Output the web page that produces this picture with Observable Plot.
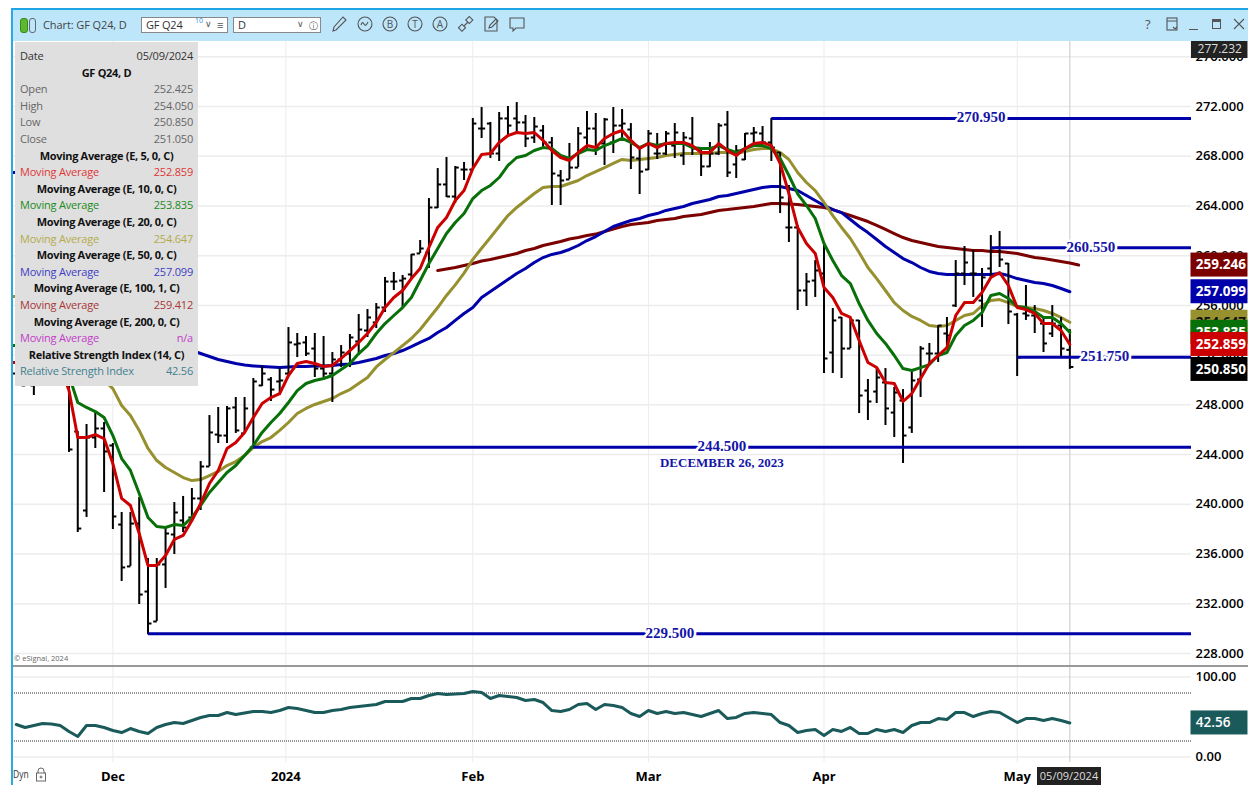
<!DOCTYPE html>
<html><head><meta charset="utf-8">
<script src="https://cdn.jsdelivr.net/npm/d3@7"></script>
<script src="https://cdn.jsdelivr.net/npm/@observablehq/plot@0.6"></script>
<style>
html,body{margin:0;padding:0;background:#fff}
#wrap{position:relative;width:1248px;height:785px;overflow:hidden;font-family:"Open Sans",sans-serif;color:#333}
#wrap>svg,#price,#rsi{position:absolute;left:0}
.abs{position:absolute;white-space:nowrap}
#legend{position:absolute;left:15px;top:42px;width:183px;height:344px;background:#dfdfdf;font-size:11px;letter-spacing:-.2px}
#legend div{position:absolute;left:5px;right:5px;height:16px;line-height:16px;display:flex;justify-content:space-between;white-space:nowrap}
#legend div.h{justify-content:center;font-weight:700;color:#111;letter-spacing:-.3px}
.box{position:absolute;background:#fff;border:1px solid #888;height:14px;top:17px;font-size:12px;line-height:14px;box-sizing:content-box}
</style></head>
<body><div id="wrap"></div>
<script>
const high=[253.18,252.37,252.37,253.98,254.38,253.18,251.17,245.86,246.42,247.38,246.58,244.89,239.34,239.34,240.55,235.64,235.64,238.13,240.14,240.63,241.27,243.44,247.14,247.79,247.87,248.59,248.59,250.12,251.09,250.20,250.92,254.22,253.74,253.50,253.74,253.50,252.21,252.77,253.66,255.27,255.67,256.15,258.25,258.65,258.41,260.10,261.22,264.60,267.01,267.90,267.18,267.50,271.04,271.92,270.72,271.52,272.00,272.32,271.28,271.12,270.47,269.51,266.85,269.03,270.31,271.60,271.44,271.04,271.92,271.76,270.63,268.62,270.07,269.83,269.99,270.63,269.91,271.12,268.62,269.11,270.63,271.60,268.86,269.83,270.31,270.39,271.04,268.30,265.65,262.43,258.57,259.61,260.98,255.75,255.03,254.95,254.79,250.04,250.92,250.92,249.40,249.23,250.76,252.69,252.94,254.38,255.03,259.61,260.74,260.42,258.97,261.62,261.95,259.37,255.35,257.60,255.99,254.95,255.99,255.03,254.05];
const low=[249.96,249.48,248.75,249.96,250.36,249.80,244.17,237.73,238.94,244.49,240.95,237.97,233.79,235.00,231.94,229.50,230.57,233.23,235.96,237.73,238.70,239.50,243.04,244.89,244.89,245.70,245.70,244.50,249.48,248.27,248.75,250.36,251.81,251.89,250.20,250.20,248.19,251.00,251.00,251.97,253.42,254.14,255.43,257.20,255.83,258.16,260.18,258.97,263.80,264.68,264.20,266.05,266.93,269.43,267.82,267.58,269.67,269.91,268.70,269.03,268.70,264.04,264.04,266.13,267.09,268.54,268.06,267.26,268.22,269.43,266.93,264.92,266.85,267.74,268.06,267.82,267.26,268.06,266.37,267.09,268.06,266.29,266.21,267.66,268.70,268.86,267.58,263.39,261.06,255.59,255.91,256.64,250.52,250.52,250.12,252.53,247.30,246.74,248.11,246.34,245.37,243.28,245.70,248.59,251.17,251.41,252.53,255.83,257.60,256.64,254.22,258.16,259.05,254.46,250.28,254.79,253.74,252.21,253.42,251.81,250.85];
const open=[250.52,249.56,249.56,250.76,252.77,251.57,250.76,245.86,239.50,245.37,246.10,244.73,238.37,235.00,238.45,232.98,230.57,235.16,237.57,238.70,238.94,240.47,243.04,245.61,245.53,247.79,245.70,244.57,249.56,250.04,249.88,250.52,252.86,253.02,252.53,250.92,250.52,251.65,252.13,253.10,253.98,254.63,255.83,257.92,258.00,258.49,260.18,260.26,263.88,265.73,264.76,266.93,266.93,270.23,270.63,268.22,271.04,271.04,270.72,269.51,270.07,269.11,266.45,266.13,267.09,269.51,270.23,269.03,269.11,270.47,270.15,267.82,266.93,268.22,268.22,268.86,268.06,269.43,268.46,267.18,268.22,270.55,267.34,267.74,269.83,269.83,269.11,268.30,262.27,262.27,257.20,258.00,258.57,252.21,255.03,252.53,254.79,249.15,249.07,249.80,247.38,248.35,246.18,250.04,252.13,252.13,253.74,255.99,258.57,258.57,256.39,258.97,260.66,259.37,255.27,255.35,255.19,254.54,253.74,254.38,252.425];
const close=[251.57,250.60,250.76,252.77,251.57,250.76,244.41,238.05,245.37,246.10,244.25,239.02,234.92,238.45,232.74,230.41,235.16,237.65,239.34,238.13,240.47,243.04,245.78,245.53,247.71,245.94,247.71,249.88,250.52,249.23,249.96,253.02,252.94,252.13,250.92,250.52,251.65,252.21,253.42,254.06,255.03,255.83,257.92,257.92,258.16,260.10,260.58,263.88,265.73,264.76,267.09,266.93,270.63,270.23,268.22,271.04,270.47,270.72,269.43,270.39,269.11,266.61,266.05,267.09,269.83,270.23,268.70,270.96,270.47,270.63,267.90,266.77,269.83,268.22,269.83,269.91,269.51,268.62,267.18,268.22,270.47,266.69,268.46,269.83,269.91,269.11,268.70,264.68,262.27,257.20,257.92,258.81,251.73,254.79,252.53,254.79,248.75,248.27,250.20,247.71,248.99,245.53,249.96,252.53,252.13,254.38,253.58,258.57,259.45,258.57,258.25,260.58,259.69,255.51,251.81,255.19,255.27,252.94,254.54,252.53,251.05];
const ma5=[251.41,251.17,250.76,251.17,251.57,251.17,249.15,245.37,245.37,245.61,245.29,243.28,240.47,239.90,237.65,235.07,235.07,235.88,237.17,237.49,238.70,240.06,241.67,242.72,244.49,244.97,245.78,246.98,248.11,248.59,248.91,250.36,251.33,251.49,251.33,251.09,251.17,251.73,252.37,253.02,253.74,254.63,255.83,256.64,257.20,258.16,258.97,260.66,262.27,263.07,264.44,265.24,267.01,268.14,268.22,269.11,269.67,269.91,269.83,269.91,269.27,268.46,267.90,267.66,268.30,268.86,268.70,269.43,269.83,270.07,269.27,268.62,269.03,268.70,269.03,269.11,269.11,268.86,268.30,268.30,269.03,268.46,268.06,268.62,269.03,269.11,268.86,267.42,265.00,262.27,260.98,260.18,257.44,256.64,255.35,255.03,253.18,251.41,251.00,249.80,249.72,248.27,248.91,250.12,251.33,251.97,252.61,255.19,256.23,256.23,257.04,258.25,258.65,257.60,255.83,255.67,255.35,254.54,254.54,253.98,252.859];
const ma10=[252.77,252.37,252.21,252.13,251.97,251.41,250.36,248.19,247.79,247.46,246.98,245.53,243.68,242.72,240.87,238.94,238.21,238.13,238.37,238.29,238.94,239.90,240.95,241.75,242.56,243.12,243.92,244.73,245.78,246.58,247.30,248.19,249.15,249.72,249.96,250.12,250.36,250.84,251.33,252.13,252.77,253.74,254.54,255.19,255.83,256.64,258.00,259.37,260.58,261.79,262.67,263.39,264.60,265.24,265.65,266.29,267.26,267.90,268.06,268.46,268.70,268.62,268.06,267.82,268.22,268.54,268.46,268.86,269.11,269.43,269.11,268.70,269.03,268.86,269.03,269.03,269.03,268.70,268.62,268.62,268.86,268.54,268.30,268.62,268.86,268.86,268.62,267.82,266.45,264.97,264.04,262.99,260.98,259.61,258.40,257.76,256.15,254.79,253.74,252.94,251.97,250.92,250.76,251.00,251.24,251.97,252.21,253.58,254.38,254.79,255.43,256.80,256.96,256.55,255.91,255.83,255.51,255.03,255.03,254.54,253.835];
const ma20=[256.72,256.23,255.59,254.95,254.38,253.98,253.18,252.21,251.41,250.60,249.96,249.31,247.95,247.14,245.94,244.49,243.52,242.96,242.56,242.15,241.91,241.99,242.31,242.64,243.12,243.44,243.92,244.57,245.05,245.37,245.94,246.58,247.30,247.71,248.03,248.27,248.51,248.91,249.23,249.72,250.20,251.05,251.65,252.20,252.77,253.34,254.06,254.95,255.83,256.80,257.65,258.60,259.70,260.60,261.46,262.35,263.23,263.88,264.44,265.00,265.49,265.57,265.57,265.81,266.05,266.45,266.77,267.09,267.42,267.74,267.66,267.74,267.82,267.90,268.06,268.14,268.22,268.22,268.22,268.22,268.30,268.30,268.22,268.38,268.54,268.62,268.62,268.30,267.74,266.69,265.89,265.24,264.28,263.23,262.27,261.38,260.26,259.05,258.16,257.20,256.23,255.59,255.11,254.79,254.38,254.30,254.38,254.79,255.19,255.35,255.99,256.39,256.47,256.23,255.91,255.83,255.75,255.59,255.35,255.03,254.647];
const ma50=[266.69,265.65,264.60,263.64,262.67,261.62,260.66,259.77,258.97,258.16,257.44,256.80,256.15,255.51,254.95,254.38,253.90,253.42,253.02,252.69,252.37,252.13,251.89,251.65,251.49,251.33,251.21,251.13,251.09,251.05,251.00,251.05,251.09,251.09,251.13,251.13,251.17,251.25,251.29,251.41,251.57,251.73,251.97,252.13,252.37,252.69,253.02,253.34,253.82,254.22,254.79,255.35,255.83,256.64,257.12,257.60,258.08,258.57,258.97,259.45,259.85,260.10,260.26,260.50,260.82,261.22,261.54,261.95,262.35,262.59,262.83,262.99,263.23,263.39,263.64,263.80,263.96,264.20,264.36,264.52,264.76,264.84,265.00,265.16,265.32,265.49,265.57,265.57,265.40,265.24,264.84,264.44,264.04,263.71,263.47,262.91,262.35,261.86,261.30,260.74,260.26,259.77,259.45,259.05,258.73,258.57,258.49,258.49,258.49,258.49,258.49,258.49,258.57,258.40,258.16,258.00,257.84,257.76,257.60,257.36,257.099];
const ma100=[258.81,258.93,259.05,259.21,259.37,259.57,259.69,259.85,260.02,260.18,260.42,260.58,260.82,260.98,261.14,261.34,261.46,261.62,261.74,261.95,262.15,262.35,262.51,262.59,262.67,262.83,262.91,262.99,263.15,263.23,263.31,263.47,263.64,263.71,263.80,263.88,263.96,264.08,264.20,264.20,264.16,264.12,264.04,263.96,263.88,263.71,263.47,263.23,262.99,262.75,262.43,262.11,261.78,261.46,261.22,261.06,260.90,260.74,260.66,260.58,260.50,260.42,260.42,260.34,260.34,260.26,260.18,260.02,259.85,259.77,259.65,259.53,259.412,259.246];
const rsi=[40.6,36.9,39.4,41.9,41.3,39.4,31.9,25.6,39.4,39.4,36.9,33.1,30.6,35.6,31.9,29.4,36.9,40.6,43.1,41.9,45.6,49.4,51.9,51.9,55.6,53.1,55,56.9,56.9,55.6,58.1,61.9,60.6,58.1,55.6,55.6,58.1,59.4,61.9,63.1,64.4,65.6,69.4,69.4,69.4,73.1,73.1,76.9,79.4,78.1,78.8,79.4,81.9,80.6,73.1,76.9,75.6,74.4,70.6,71.9,68.1,58.1,56.9,59.4,65.6,66.9,59.4,65.6,64.4,61.9,54.4,50.6,58.1,54.4,56.9,54.4,55.6,53.1,50.6,54.4,58.1,48.1,49.4,54.4,55.6,54.4,53.1,43.1,39.4,30.6,33.1,34.4,26.9,34.4,31.9,36.9,29.4,29.4,34.4,31.9,34.4,30.6,39.4,43.1,43.1,48.1,46.9,55.6,55.6,50.6,54.4,56.9,55.6,49.4,43.1,48.1,48.1,45.6,48.1,45.6,42.56];

const yTicks=[228,232,236,240,244,248,252,256,260,264,268,272,276];
const xTickPos=[11,30.7,52,72,92,114];
const xTickText=["Dec","2024","Feb","Mar","Apr","May"];
const lastBar=120;

const levelValues=[229.5,244.5,270.95,260.55,251.75];
const levelStart=[15,27,86,111,114];
const levelText=["229.500","244.500","270.950","260.550","251.750"];
const levelTextAt=[74.45,80.37,109.9,122.4,124];

const tagValues=[259.246,257.099,254.647,253.835,252.859,250.85];
const tagText=["259.246","257.099","254.647","253.835","252.859","250.850"];
const tagFill=["#7b0000","#0000aa","#96902f","#087008","#cc0000","#000000"];
const tagInk=["#fff","#fff","#111","#fff","#fff","#fff"];

const legendRows=[
["Date","05/09/2024","#333"],["h","GF Q24, D"],["Open","252.425","#666"],["High","254.050","#666"],["Low","250.850","#666"],["Close","251.050","#666"],
["h","Moving Average (E, 5, 0, C)"],["Moving Average","252.859","#e03636"],
["h","Moving Average (E, 10, 0, C)"],["Moving Average","253.835","#1a8a1a"],
["h","Moving Average (E, 20, 0, C)"],["Moving Average","254.647","#b3ab4a"],
["h","Moving Average (E, 50, 0, C)"],["Moving Average","257.099","#3c3cc4"],
["h","Moving Average (E, 100, 1, C)"],["Moving Average","259.412","#a83636"],
["h","Moving Average (E, 200, 0, C)"],["Moving Average","n/a","#c23cc8"],
["h","Relative Strength Index (14, C)"],["Relative Strength Index","42.56","#3f7f8f"]];

const X0=-0.49,X1=133.8,XR=140.29;
const idx=high.map((_,i)=>i);
const bars=idx.map(i=>({i,o:open[i],h:high[i],l:low[i],c:close[i]}));
const series=(arr,start=0)=>arr.map((v,k)=>({i:start+k,v}));
const maLine=(arr,stroke,start=0)=>Plot.line(series(arr,start),{x:"i",y:"v",stroke,strokeWidth:3,strokeLinejoin:"round",clip:true});
const withLead=arr=>[arr[0],...arr];
const levels=levelValues.map((v,k)=>({v,x:levelStart[k],t:levelText[k],tx:levelTextAt[k]}));
const xOpts={domain:[X0,X1],range:[11.5,1190.5]};
const font={fontFamily:'"Open Sans",sans-serif',fontSize:"13px",fontWeight:600,color:"#000",background:"transparent",overflow:"visible"};

const tagMarks=tagValues.flatMap((v,k)=>[
  Plot.rect([v],{x1:()=>X1,x2:()=>XR,y1:d=>d-0.965,y2:d=>d+0.965,fill:tagFill[k]}),
  Plot.text([v],{x:()=>X1+0.55,y:d=>d,text:()=>tagText[k],fill:tagInk[k],textAnchor:"start",fontSize:13.5,fontWeight:700})
]);

const price=Plot.plot({
  width:1248,height:667,marginTop:41,marginBottom:1,marginLeft:12,marginRight:57,
  style:font,
  x:{...xOpts,axis:null},
  y:{domain:[226.95,277.232],range:[666,41],axis:null},
  marks:[
    Plot.ruleY(yTicks,{stroke:"#ececec",strokeWidth:1.5}),
    Plot.ruleX(xTickPos,{stroke:"#ececec",strokeWidth:1}),
    Plot.ruleX([lastBar],{stroke:"#c8c8c8",strokeWidth:1}),
    Plot.axisY({anchor:"right",ticks:yTicks,tickFormat:d=>d.toFixed(3),tickSize:0,tickPadding:4,label:null}),
    maLine(ma100,"#7b0000",lastBar+1-(ma100.length-1)),
    maLine(withLead(ma50),"#0000aa",-1),
    maLine(withLead(ma20),"#96902f",-1),
    Plot.ruleX(bars,{x:"i",y1:"l",y2:"h",stroke:"#000",strokeWidth:2}),
    Plot.link(bars,{x1:d=>d.i-0.4,x2:"i",y1:"o",y2:"o",stroke:"#000",strokeWidth:2}),
    Plot.link(bars,{x1:"i",x2:d=>d.i+0.4,y1:"c",y2:"c",stroke:"#000",strokeWidth:2}),
    maLine(withLead(ma10),"#087008",-1),
    maLine(withLead(ma5),"#cc0000",-1),
    Plot.link(levels,{x1:"x",x2:()=>X1,y1:"v",y2:"v",dy:-1,stroke:"#0000aa",strokeWidth:3}),
    Plot.text(levels,{x:"tx",y:"v",dy:-2,text:"t",fill:"#1414a8",stroke:"#fff",strokeWidth:5,fontFamily:'"Liberation Serif",serif',fontWeight:700,fontSize:15}),
    Plot.text(["DECEMBER 26, 2023"],{x:()=>80.37,y:()=>243.36,text:d=>d,fill:"#1414a8",fontFamily:'"Liberation Serif",serif',fontWeight:700,fontSize:13}),
    ...tagMarks,
    Plot.rect([277.232],{x1:()=>X1+0.05,x2:()=>XR,y1:d=>d,y2:d=>d-1.37,fill:"#222"}),
    Plot.text([277.232],{x:()=>X1+0.75,y:d=>d-0.62,text:d=>d.toFixed(3),fill:"#ddd",textAnchor:"start",fontSize:12,fontWeight:400})
  ]
});
price.id="price";price.style.position="absolute";price.style.left="0";price.style.top="0";

const rsiPlot=Plot.plot({
  width:1248,height:118,marginTop:9.5,marginBottom:28.5,marginLeft:12,marginRight:57,
  style:font,
  x:{...xOpts,axis:null},
  y:{domain:[0,100],range:[89.5,9.5],axis:null},
  marks:[
    Plot.ruleY([0,100],{stroke:"#ececec",strokeWidth:1.5}),
    Plot.ruleX(xTickPos,{y1:-7,y2:112,stroke:"#ececec"}),
    Plot.ruleX([lastBar],{y1:-7,y2:112,stroke:"#c8c8c8"}),
    Plot.ruleY([20,80],{stroke:"#333",strokeWidth:1,strokeDasharray:"1,1"}),
    Plot.axisY({anchor:"right",ticks:[0,100],tickFormat:d=>d.toFixed(2),tickSize:0,tickPadding:4,label:null}),
    Plot.axisX({anchor:"bottom",ticks:xTickPos,tickFormat:d=>xTickText[xTickPos.indexOf(d)],tickSize:0,tickPadding:15,label:null,fontWeight:700}),
    Plot.line(series(rsi),{x:"i",y:"v",stroke:"#1a5a5a",strokeWidth:3,strokeLinejoin:"round"}),
    Plot.rect([42.56],{x1:()=>X1,x2:()=>XR,y1:d=>d-15,y2:d=>d+15,fill:"#1a5a5a"}),
    Plot.text([42.56],{x:()=>X1+0.55,y:d=>d,text:d=>d.toFixed(2),fill:"#fff",textAnchor:"start",fontSize:13.5,fontWeight:600})
  ]
});
rsiPlot.id="rsi";rsiPlot.style.position="absolute";rsiPlot.style.left="0";rsiPlot.style.top="667px";

const ico=(x,inner,w=22)=>`<svg class="abs" style="left:${x-w/2}px;top:13px" width="${w}" height="22" viewBox="0 0 22 22" fill="none" stroke="#555" stroke-width="1.1">${inner}</svg>`;
const letter=(c)=>`<circle cx="11" cy="11" r="7"/><text x="11" y="14.5" text-anchor="middle" font-size="10" fill="#555" stroke="none" font-family="Open Sans">${c}</text>`;
const chrome=`
<div class="abs" style="left:11px;top:8px;width:2px;height:777px;background:#29abe2"></div>
<div class="abs" style="left:12px;top:8px;width:1236px;height:2px;background:#1ea5e6"></div>
<div class="abs" style="left:13px;top:10px;width:1235px;height:31px;background:#bde6fb"></div>
<div class="abs" style="left:20px;top:18px;width:6px;height:13px;border-radius:3px;background:#5cb82e;border:1px solid #3a8a1a"></div>
<div class="abs" style="left:29px;top:18px;width:5px;height:13px;border-radius:3px;border:1px solid #666"></div>
<div class="abs" style="left:43px;top:16px;font-size:11px;line-height:17px;color:#444;letter-spacing:-.1px">Chart: GF Q24, D</div>
<div class="box" style="left:141px;width:85px;"><span style="position:absolute;left:4px;top:0;font-size:11px;letter-spacing:-.2px">GF Q24</span><span style="position:absolute;left:53px;top:-4px;font-size:7px;color:#2a8fe0">10</span><span style="position:absolute;left:63px;top:-1px;font-size:9px;color:#555">&#8744;</span><span style="position:absolute;left:75px;top:0;font-size:11px;color:#555">&#8801;</span></div>
<div class="box" style="left:233px;width:86px;"><span style="position:absolute;left:4px;top:0;font-size:11px">D</span><span style="position:absolute;left:63px;top:-1px;font-size:9px;color:#555">&#8744;</span><span style="position:absolute;left:75px;top:1px;font-size:9px;color:#555">&#9432;</span></div>
${ico(339,'<path d="M5 18l1-4L15 4l3 3L8 17z"/>')}
${ico(365,'<circle cx="11" cy="11" r="7"/><path d="M7 12c1-3 2-3 3-1s2 2 4-2"/>')}
${ico(390,letter("B"))}${ico(415,letter("T"))}${ico(440,letter("A"))}
${ico(466,'<rect x="5" y="12" width="5" height="5" transform="rotate(45 7 14)"/><rect x="12" y="5" width="5" height="5" transform="rotate(45 15 7)"/><path d="M9 13l4-4"/>')}
${ico(491,'<path d="M6 4h8l3 3v11H5V4z"/><path d="M9 15l1-3 6-6 2 2-6 6z"/>')}
${ico(517,'<path d="M4 5h14v10h-8l-3 3v-3H4z"/>')}
<div class="abs" style="left:1145px;top:16px;font-size:13px;line-height:17px;color:#555">?</div>
${ico(1172,'<rect x="6" y="5" width="10" height="12"/><path d="M6 8h10M12 14l2 2 2-2"/>')}
<div class="abs" style="left:1189px;top:29px;width:9px;height:1px;background:#555"></div>
<div class="abs" style="left:1212px;top:19px;width:9px;height:10px;border:1px solid #555;border-top-width:3px;box-sizing:border-box"></div>
${ico(1239,'<path d="M6 6l10 10M16 6L6 16"/>')}
<div class="abs" style="left:14px;top:654px;font-size:7.5px;line-height:9px;color:#666">&copy; eSignal, 2024</div>
<div class="abs" style="left:13px;top:768px;font-size:10px;line-height:13px;color:#333;transform:scaleX(.85);transform-origin:left">Dyn</div>
<svg class="abs" style="left:34px;top:767px" width="14" height="15" fill="none" stroke="#666" stroke-width="1"><path d="M4 6V4a3 3 0 0 1 6 0v2"/><rect x="2.5" y="6" width="9" height="8"/><circle cx="7" cy="10" r="1"/></svg>
<div class="abs" style="left:1037px;top:767px;width:64px;height:18px;background:#222;color:#ddd;font-size:11px;line-height:18px;text-align:center">05/09/2024</div>`;

const wrap=document.getElementById("wrap");
wrap.append(price,rsiPlot);
const sep=document.createElement("div");
sep.className="abs";sep.style.cssText="left:12px;top:665px;width:1236px;height:2px;background:#999";
wrap.append(sep);
const c=document.createElement("div");c.innerHTML=chrome;wrap.append(...c.children);
const lg=document.createElement("div");lg.id="legend";
lg.innerHTML=legendRows.map((r,k)=>{
  const t=6+k*16.6;
  return r[0]==="h"?`<div class="h" style="top:${t}px"><span>${r[1]}</span></div>`
    :`<div style="top:${t}px;color:${r[2]}"><span>${r[0]}</span><span>${r[1]}</span></div>`;
}).join("");
wrap.append(lg);
</script></body></html>
